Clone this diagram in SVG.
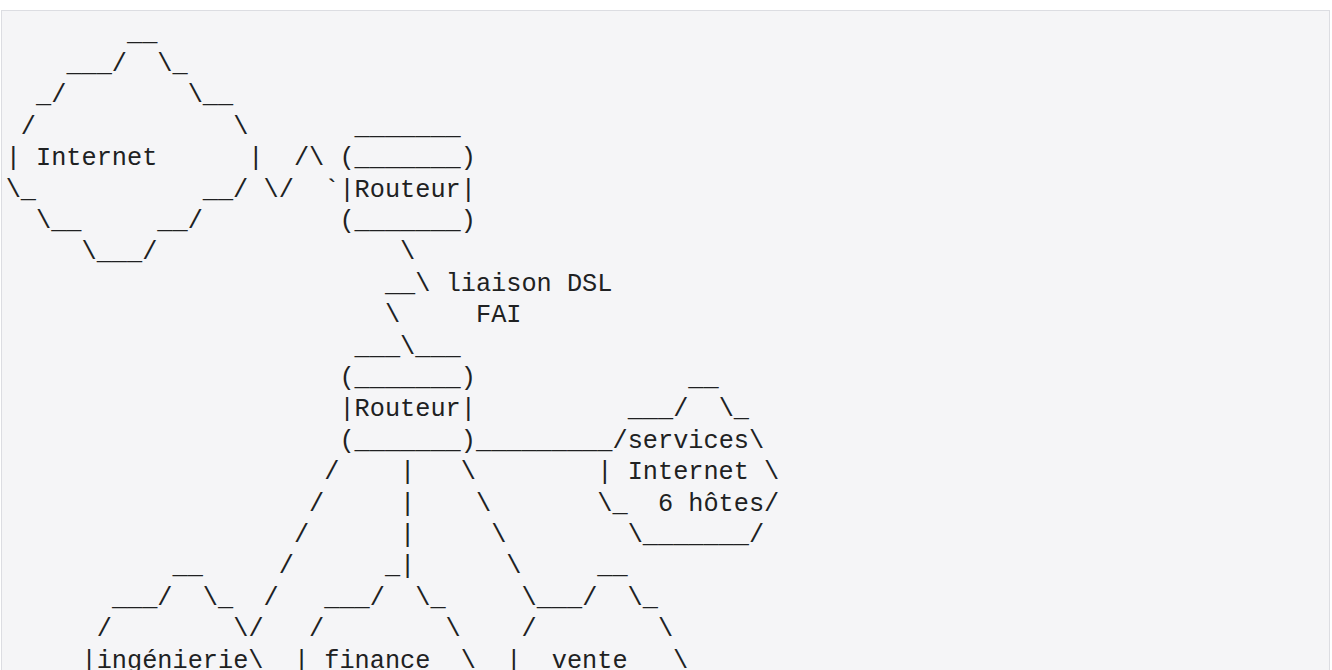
<svg xmlns="http://www.w3.org/2000/svg" width="1332" height="670" viewBox="0 0 1332 670" xml:space="preserve">
<style>
text{font-family:"Liberation Mono","DejaVu Sans Mono",monospace;font-size:25.28px;fill:#202122;white-space:pre}
</style>
<rect x="0" y="0" width="1332" height="670" fill="#ffffff"/>
<rect x="1.5" y="10.5" width="1328" height="700" fill="#f5f5f7" stroke="#dcdde2" stroke-width="1"/>
<g id="internet">
<text x="127.06" y="39.5">__</text>
<text x="66.38" y="70.9">___/  \_</text>
<text x="36.04" y="102.3">_/        \__</text>
<text x="20.87" y="133.7">/             \</text>
<text x="5.7" y="165.1">| Internet      |</text>
<text x="5.7" y="196.5">\_           __/</text>
<text x="36.04" y="227.9">\__     __/</text>
<text x="81.55" y="259.3">\___/</text>
</g>
<g id="routeur-fai">
<text x="354.61" y="133.7">_______</text>
<text x="339.44" y="165.1">(_______)</text>
<text x="339.44" y="196.5">|Routeur|</text>
<text x="339.44" y="227.9">(_______)</text>
</g>
<g id="routeur-local">
<text x="354.61" y="353.5">___</text>
<text x="415.29" y="353.5">___</text>
<text x="339.44" y="384.9">(_______)</text>
<text x="339.44" y="416.3">|Routeur|</text>
<text x="339.44" y="447.7">(_______)</text>
</g>
<g id="services-internet">
<text x="688.35" y="384.9">__</text>
<text x="627.67" y="416.3">___/  \_</text>
<text x="612.5" y="447.7">/services\</text>
<text x="597.33" y="479.1">| Internet \</text>
<text x="597.33" y="510.5">\_  6 hôtes/</text>
<text x="627.67" y="541.9">\_______/</text>
</g>
<g id="ingenierie">
<text x="172.57" y="573.3">__</text>
<text x="111.89" y="604.7">___/  \_</text>
<text x="96.72" y="636.1">/        \</text>
<text x="81.55" y="667.5">|ingénierie\</text>
</g>
<g id="finance">
<text x="384.95" y="573.3">_</text>
<text x="324.27" y="604.7">___/  \_</text>
<text x="309.1" y="636.1">/        \</text>
<text x="293.93" y="667.5">| finance  \</text>
</g>
<g id="vente">
<text x="597.33" y="573.3">__</text>
<text x="536.65" y="604.7">___/  \_</text>
<text x="521.48" y="636.1">/        \</text>
<text x="506.31" y="667.5">|  vente   \</text>
</g>
<g id="connectors">
<text x="293.93" y="165.1">/\</text>
<text x="263.59" y="196.5">\/</text>
<text x="324.27" y="196.5">`</text>
<text x="400.12" y="259.3">\</text>
<text x="384.95" y="290.7">__\</text>
<text x="384.95" y="322.1">\</text>
<text x="400.12" y="353.5">\</text>
<text x="475.97" y="447.7">_________</text>
<text x="324.27" y="479.1">/</text>
<text x="400.12" y="479.1">|</text>
<text x="460.8" y="479.1">\</text>
<text x="309.1" y="510.5">/</text>
<text x="400.12" y="510.5">|</text>
<text x="475.97" y="510.5">\</text>
<text x="293.93" y="541.9">/</text>
<text x="400.12" y="541.9">|</text>
<text x="491.14" y="541.9">\</text>
<text x="278.76" y="573.3">/</text>
<text x="400.12" y="573.3">|</text>
<text x="506.31" y="573.3">\</text>
<text x="263.59" y="604.7">/</text>
<text x="521.48" y="604.7">\</text>
<text x="248.42" y="636.1">/</text>
</g>
<g id="labels">
<text x="445.63" y="290.7">liaison DSL</text>
<text x="475.97" y="322.1">FAI</text>
</g>
</svg>
